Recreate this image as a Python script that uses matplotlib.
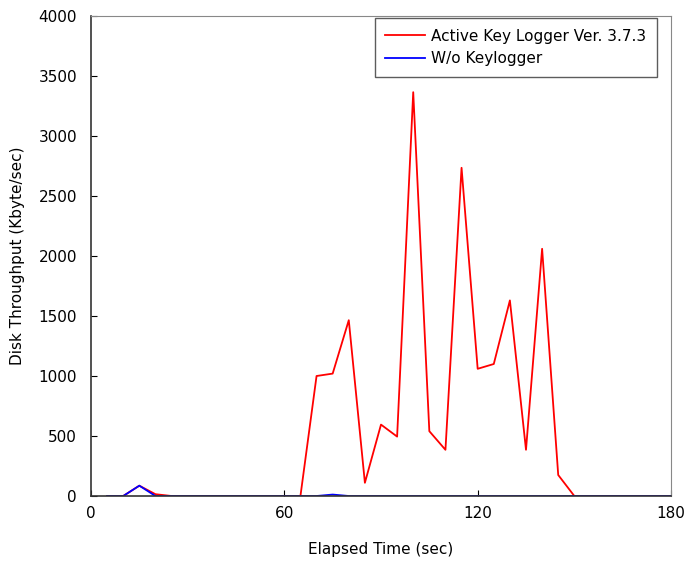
import matplotlib
matplotlib.use("Agg")
import matplotlib.pyplot as plt

plt.rcParams['font.family'] = ['DejaVu Sans']

time_s = list(range(5, 185, 5))
keylogger = [0, 0, 86, 15, 0, 0, 0, 0, 0, 0, 0, 0, 0,
             1000, 1020, 1465, 110, 595, 495, 3365, 540, 385, 2735, 1060, 1100, 1630, 385, 2060, 175, 0,
             0, 0, 0, 0, 0, 0]
without = [0, 0, 86, 0, 0, 0, 0, 0, 0, 0, 0, 0, 0,
           0, 12, 0, 0, 0, 0, 0, 0, 0, 0, 0, 0, 0, 0, 0, 0, 0,
           0, 0, 0, 0, 0, 0]
x_ticks = [0, 60, 120, 180]
y_ticks = list(range(0, 4001, 500))

fig = plt.figure(figsize=(6.89, 5.63), dpi=100)
ax = fig.add_axes([91/689, 67/563, 580/689, 480/563])

ax.plot(time_s, keylogger, color='#ff0000', lw=1.3, label='Active Key Logger Ver. 3.7.3')
ax.plot(time_s, without, color='#0000ff', lw=1.3, label='W/o Keylogger')

ax.set_xlim(0, 180)
ax.set_ylim(0, 4000)
ax.set_xticks(x_ticks)
ax.set_yticks(y_ticks)
ax.tick_params(axis='y', direction='in', labelsize=11, length=4, pad=10)
ax.tick_params(axis='x', direction='in', labelsize=11, length=4, pad=7)
for s in ['top', 'right']:
    ax.spines[s].set_color('#888888')
for s in ['left', 'bottom']:
    ax.spines[s].set_color('#333333')
    ax.spines[s].set_linewidth(1.2)

ax.set_xlabel('Elapsed Time (sec)', fontsize=11, labelpad=15)
ax.set_ylabel('Disk Throughput (Kbyte/sec)', fontsize=11, labelpad=10)

leg = ax.legend(loc='upper right', bbox_to_anchor=(566/580, 478/480), fontsize=11,
                frameon=True, fancybox=False, edgecolor='#333333', borderaxespad=0,
                handlelength=2.6, handletextpad=0.4, labelspacing=0.5, borderpad=0.7)
leg.get_frame().set_linewidth(1.0)

fig.savefig('out.png', dpi=100)
